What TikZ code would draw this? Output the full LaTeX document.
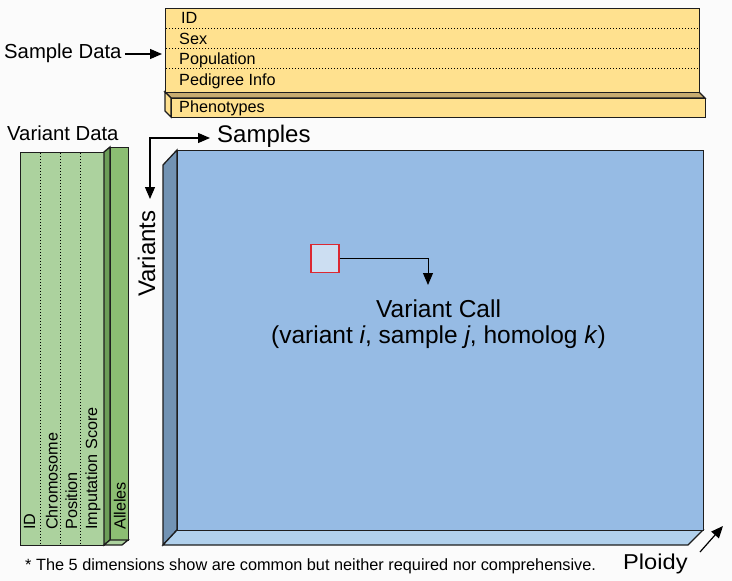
\documentclass[tikz,border=0pt]{standalone}
\usepackage{fontspec}
\setmainfont{Liberation Sans}
\usetikzlibrary{arrows.meta}
\definecolor{bg}{RGB}{251,251,251}
\definecolor{yel}{RGB}{255,225,143}
\definecolor{tan}{RGB}{200,172,112}
\definecolor{glight}{RGB}{172,210,158}
\definecolor{gmid}{RGB}{140,190,115}
\definecolor{gdark}{RGB}{108,158,88}
\definecolor{bfront}{RGB}{150,187,228}
\definecolor{bside}{RGB}{114,147,180}
\definecolor{bbottom}{RGB}{176,208,236}
\definecolor{cellfill}{RGB}{204,222,242}
\definecolor{cellred}{RGB}{220,40,50}
\definecolor{edge}{RGB}{30,30,30}
\begin{document}
\begin{tikzpicture}[x=1pt,y=-1pt,
  face/.style={draw=edge,line width=1.3pt,line join=miter},
  lbl/.style={inner sep=0pt,anchor=base west,text=black},
  small/.style={lbl,font=\fontsize{16.2}{19}\selectfont},
  big/.style={lbl,font=\fontsize{24}{28}\selectfont},
  arr/.style={line width=1.2pt,-{Triangle[length=12pt,width=10pt]}},
  dots/.style={line width=1pt,dotted}]
\fill[bg] (0,0) rectangle (732,581);
\useasboundingbox (0,0) rectangle (732,581);

% ---------- Sample data (yellow) ----------
\filldraw[face,fill=tan] (165,92) -- (699,92) -- (705,98) -- (171,98) -- cycle;
\filldraw[face,fill=yel] (165,92) -- (171,98) -- (171,117) -- (165,111) -- cycle;
\node[face,fill=yel,inner sep=0pt,minimum width=534,minimum height=19,anchor=north west] (pheno) at (171,98) {};
\node[face,fill=yel,inner sep=0pt,minimum width=534,minimum height=84,anchor=north west] (sbox) at (165,8) {};
\foreach \yy in {28,48,68} \draw[dots] (166,\yy) -- (698,\yy);
\node[small] (sid) at (181,23) {ID};
\node[small] (ssex) at (179,44.5) {Sex};
\node[small] (spop) at (179,64) {Population};
\node[small] (sped) at (179,85) {Pedigree Info};
\node[small] (sphe) at (179,112) {Phenotypes};

\node[lbl,font=\fontsize{20.3}{24}\selectfont] (sdl) at (4,58) {Sample Data};
\coordinate (sdtip) at (162,54);
\draw[arr] (sdl.east |- sdtip) ++(3,0) -- (sdtip);

% ---------- Variant data (green) ----------
\node[lbl,font=\fontsize{20.3}{24}\selectfont] (vdl) at (7,140) {Variant Data};
\node[face,fill=glight,inner sep=0pt,minimum width=84,minimum height=393,anchor=north west] (vbox) at (20,152) {};
\filldraw[face,fill=gdark] (104,152) -- (110,147) -- (110,540) -- (104,545) -- cycle;
\node[face,fill=gmid,inner sep=0pt,minimum width=18,minimum height=393,anchor=north west] (alle) at (110,147) {};
\filldraw[face,fill=glight] (104,545) -- (110,540) -- (128,540) -- (122,545) -- cycle;
\foreach \xx in {40,60,80} \draw[dots] (\xx,153) -- (\xx,544);
\node[small,rotate=90] (gid) at (35,530) {ID};
\node[small,rotate=90] (gchr) at (57.5,530) {Chromosome};
\node[small,rotate=90] (gpos) at (77,530) {Position};
\node[small,rotate=90] (gimp) at (97,530) {Imputation Score};
\node[small,rotate=90] (gall) at (125.5,530) {Alleles};

% ---------- Calls (blue) ----------
\filldraw[face,fill=bside] (163,165) -- (177,150) -- (177,530) -- (163,545) -- cycle;
\filldraw[face,fill=bbottom] (163,545) -- (177,530) -- (703,530) -- (688,545) -- cycle;
\node[face,fill=bfront,inner sep=0pt,minimum width=526,minimum height=380,anchor=north west] (bbox) at (177,150) {};

\node[big] (samp) at (217,142) {Samples};
\node[big,rotate=90] (vars) at (155,297) {Variants};
\coordinate (corner) at (150,138);
\coordinate (stip) at (210,138);
\coordinate (vtip) at (150,199);
\draw[line width=1.2pt,{Triangle[length=12pt,width=10pt]}-{Triangle[length=12pt,width=10pt]}] (vtip) -- (corner) -- (stip);

\node[face,draw=cellred,fill=cellfill,line width=1.2pt,inner sep=0pt,minimum size=28] (cell) at (325,258.5) {};
\coordinate (ctip) at (428,285);
\draw[line width=1pt,-{Triangle[length=12pt,width=10pt]}] (cell.east) -| (ctip);
\node[lbl,font=\fontsize{24.5}{28}\selectfont] (vc1) at (376,317) {Variant Call};
\node[lbl,font=\fontsize{24.5}{28}\selectfont] (vc2) at (271,343) {(variant \textit{i}, sample \textit{j}, homolog \textit{k})};

\node[lbl,font=\fontsize{21.5}{26}\selectfont] (plo) at (623,569) {\scalebox{1.1}[1]{Ploidy}};
\coordinate (pstart) at (700,552);
\coordinate (ptip) at (723,526);
\draw[arr] (pstart) -- (ptip);

\node[lbl,font=\fontsize{16.3}{19}\selectfont] (foot) at (25,570.5) {* The 5 dimensions show are common but neither required nor comprehensive.};
\end{tikzpicture}
\end{document}
